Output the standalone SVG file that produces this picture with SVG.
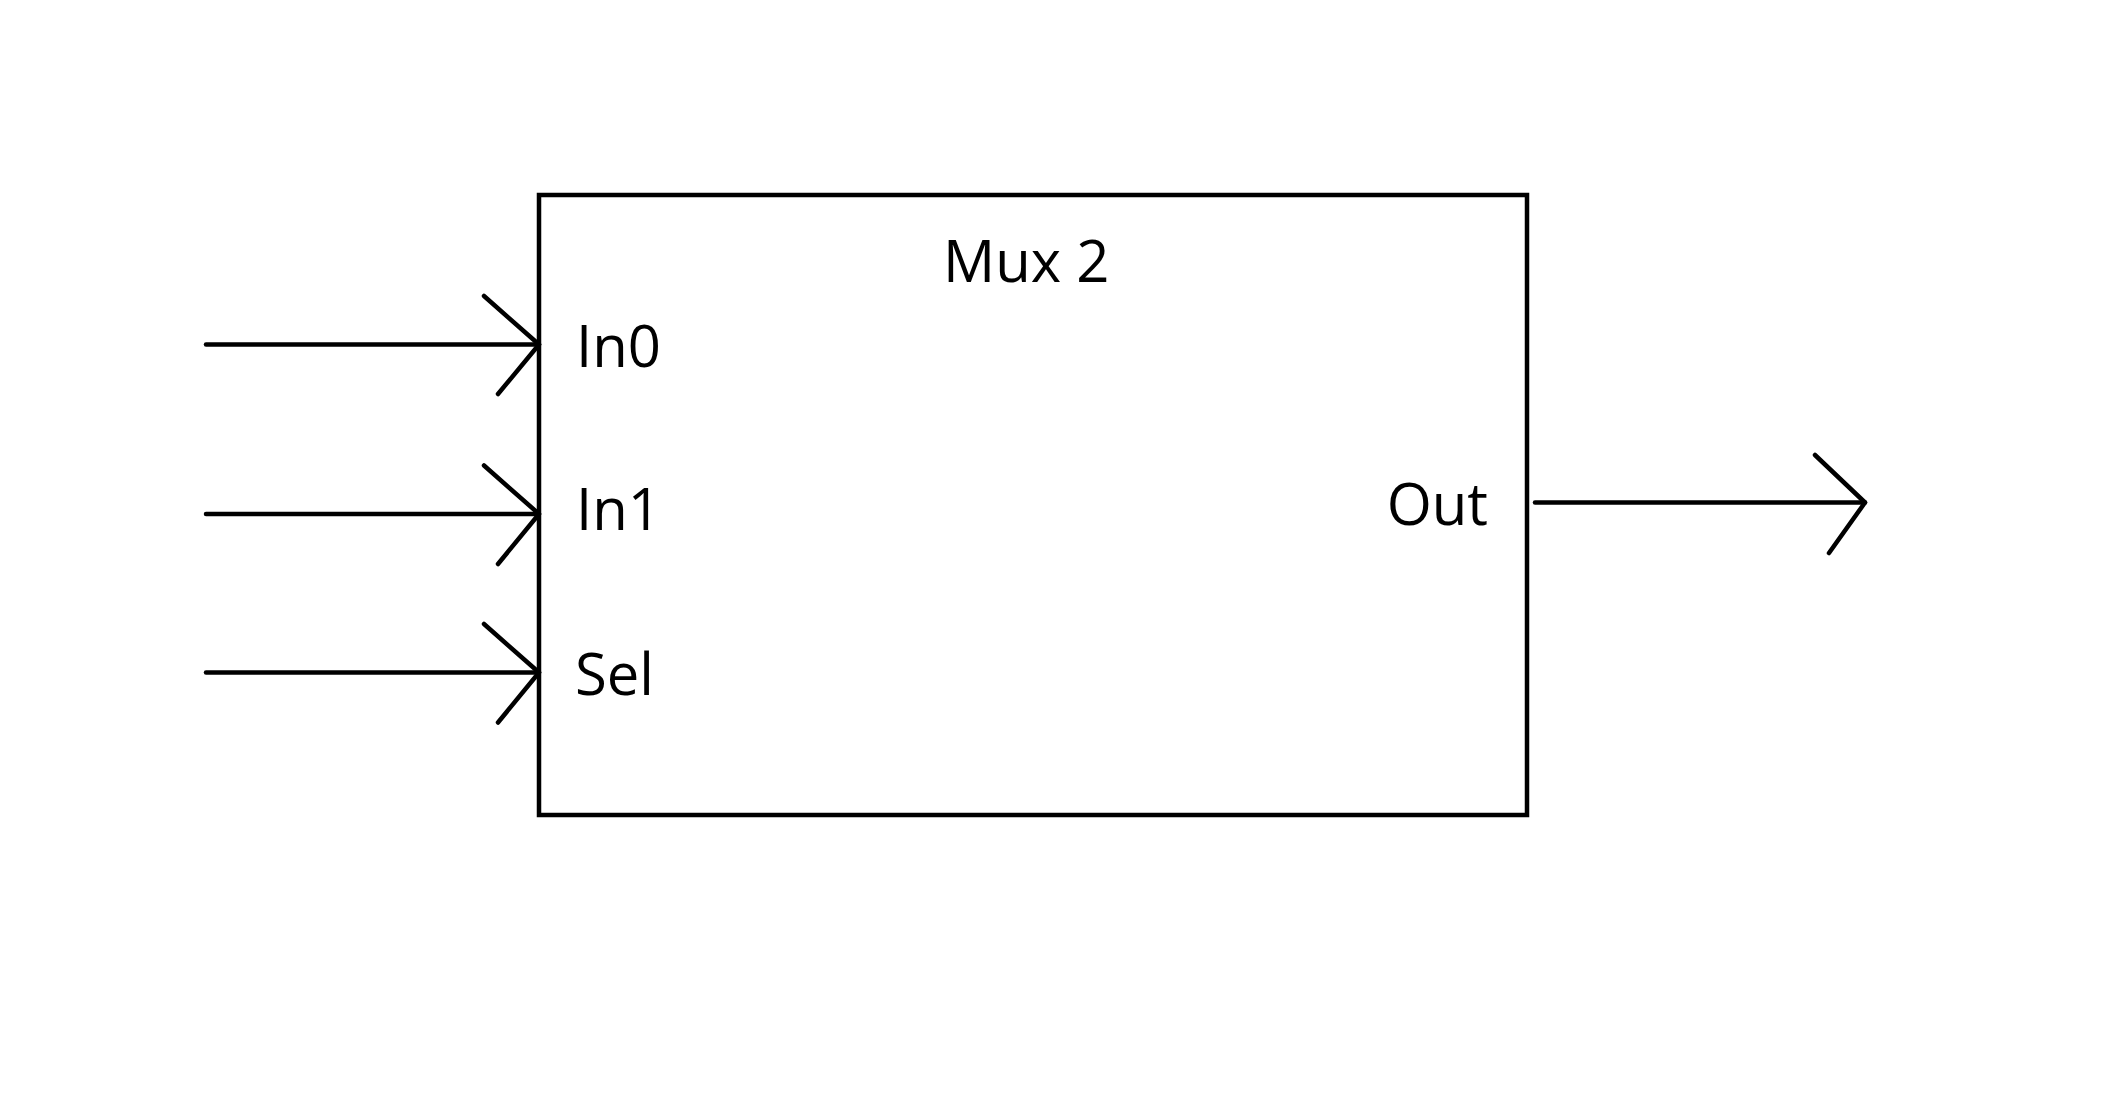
<svg xmlns="http://www.w3.org/2000/svg" width="2104" height="1108" viewBox="0 0 2104 1108">
<style>
.ln{stroke:#000;stroke-width:4.5;stroke-linecap:round;stroke-linejoin:round;fill:none}
.box{stroke:#000;stroke-width:4.5;fill:#fff}
.lbl{font-family:"Open Sans","Noto Sans",sans-serif;font-size:58px;fill:#000}
</style>
<rect width="2104" height="1108" fill="#fff"/>
<g id="mux2">
<rect class="box" x="539" y="195" width="988" height="620"/>
<text class="lbl" x="943" y="282">Mux 2</text>
<text class="lbl" x="576" y="367">In0</text>
<text class="lbl" x="576" y="530">In1</text>
<text class="lbl" x="575" y="695">Sel</text>
<text class="lbl" x="1488" y="525" text-anchor="end">Out</text>
</g>
<g id="connectors">
<g id="in0">
<line class="ln" x1="206" y1="344.5" x2="539" y2="344.5"/>
<polyline class="ln" points="484,296 539,344.5 498,394"/>
</g>
<g id="in1">
<line class="ln" x1="206" y1="514" x2="539" y2="514"/>
<polyline class="ln" points="484,465.5 539,514 498,564"/>
</g>
<g id="sel">
<line class="ln" x1="206" y1="672.5" x2="539" y2="672.5"/>
<polyline class="ln" points="484,624 539,672.5 498,722.5"/>
</g>
<g id="out">
<line class="ln" x1="1535" y1="502.5" x2="1865" y2="502.5"/>
<polyline class="ln" points="1815,455 1865,502.5 1829,553"/>
</g>
</g>
</svg>
